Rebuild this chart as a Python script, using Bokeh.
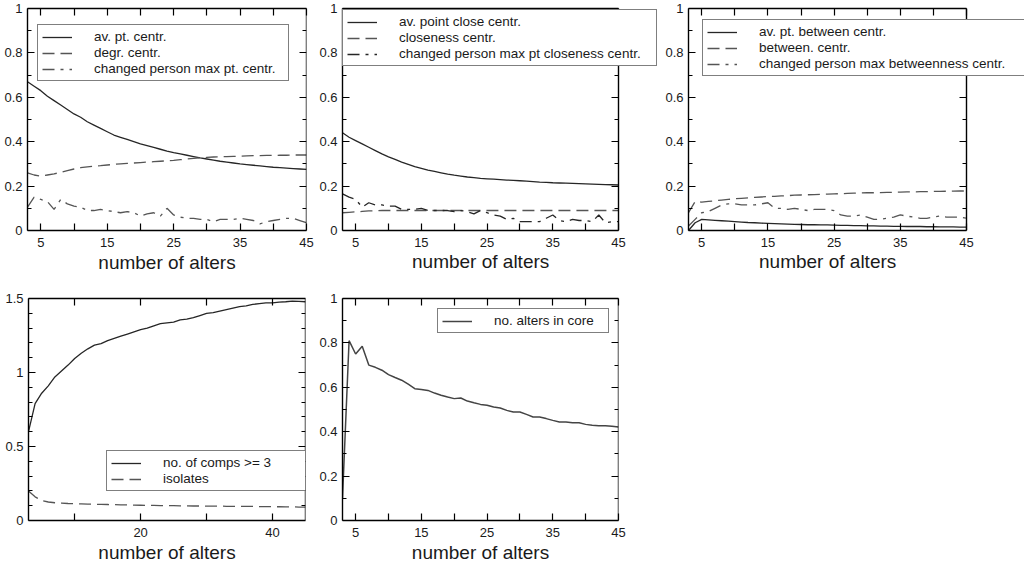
from bokeh.plotting import figure
from bokeh.layouts import column, row
from bokeh.models import (Range1d, FixedTicker, LinearAxis, Legend, LegendItem,
                          CustomJSTickFormatter, Title)
from bokeh.embed import file_html
from bokeh.resources import INLINE

FONT = "Liberation Sans"

# ---------------- data ----------------
alters = list(range(3, 46))

# panel 1: point centrality
av_pt_centr = [0.67, 0.65, 0.63, 0.605, 0.585, 0.565, 0.545, 0.525, 0.51, 0.49, 0.475, 0.46,
               0.445, 0.43, 0.42, 0.41, 0.40, 0.39, 0.382, 0.374, 0.366, 0.358, 0.351, 0.345,
               0.339, 0.333, 0.327, 0.322, 0.317, 0.312, 0.308, 0.304, 0.300, 0.297, 0.294,
               0.291, 0.288, 0.285, 0.283, 0.281, 0.279, 0.277, 0.275]
degr_centr = [0.26, 0.25, 0.245, 0.25, 0.255, 0.262, 0.27, 0.277, 0.283, 0.287, 0.29, 0.292,
              0.295, 0.298, 0.30, 0.302, 0.304, 0.306, 0.308, 0.31, 0.312, 0.314, 0.316, 0.319,
              0.322, 0.325, 0.327, 0.329, 0.331, 0.332, 0.333, 0.334, 0.335, 0.336, 0.337,
              0.337, 0.338, 0.338, 0.339, 0.339, 0.34, 0.34, 0.34]
changed_max_pt = [0.105, 0.15, 0.14, 0.13, 0.095, 0.14, 0.12, 0.11, 0.105, 0.09, 0.09, 0.095,
                  0.09, 0.085, 0.08, 0.085, 0.08, 0.065, 0.075, 0.08, 0.065, 0.10, 0.07, 0.06,
                  0.055, 0.055, 0.05, 0.05, 0.04, 0.05, 0.05, 0.05, 0.055, 0.05, 0.045, 0.03,
                  0.04, 0.045, 0.05, 0.055, 0.055, 0.045, 0.035]

# panel 2: closeness
av_close_centr = [0.44, 0.42, 0.405, 0.39, 0.375, 0.36, 0.345, 0.332, 0.32, 0.308, 0.298, 0.288,
                  0.28, 0.272, 0.266, 0.26, 0.254, 0.249, 0.245, 0.241, 0.238, 0.235, 0.233,
                  0.231, 0.229, 0.227, 0.226, 0.224, 0.222, 0.220, 0.218, 0.217, 0.215, 0.214,
                  0.213, 0.212, 0.211, 0.21, 0.209, 0.208, 0.207, 0.206, 0.205]
closeness_centr = [0.08, 0.082, 0.084, 0.086, 0.088, 0.089, 0.09, 0.09, 0.09, 0.09, 0.09, 0.09,
                   0.09, 0.09, 0.09, 0.09, 0.09, 0.09, 0.09, 0.09, 0.09, 0.09, 0.09, 0.09, 0.09,
                   0.09, 0.09, 0.09, 0.09, 0.09, 0.09, 0.09, 0.09, 0.09, 0.09, 0.09, 0.09, 0.09,
                   0.09, 0.09, 0.09, 0.09, 0.09]
changed_max_close = [0.165, 0.15, 0.14, 0.105, 0.125, 0.115, 0.115, 0.11, 0.11, 0.095, 0.095,
                     0.095, 0.10, 0.09, 0.09, 0.09, 0.09, 0.085, 0.09, 0.085, 0.075, 0.09, 0.08,
                     0.07, 0.065, 0.05, 0.055, 0.04, 0.04, 0.04, 0.04, 0.055, 0.07, 0.045, 0.04,
                     0.05, 0.045, 0.045, 0.04, 0.07, 0.035, 0.04, 0.04]

# panel 3: betweenness
av_between_centr = [0.0, 0.035, 0.05, 0.048, 0.046, 0.044, 0.042, 0.04, 0.038, 0.036, 0.035,
                    0.033, 0.032, 0.031, 0.03, 0.029, 0.028, 0.027, 0.026, 0.026, 0.025, 0.025,
                    0.024, 0.023, 0.023, 0.022, 0.022, 0.021, 0.021, 0.02, 0.02, 0.019, 0.019,
                    0.018, 0.018, 0.018, 0.017, 0.017, 0.016, 0.016, 0.016, 0.015, 0.015]
between_centr = [0.08, 0.13, 0.128, 0.131, 0.134, 0.137, 0.14, 0.143, 0.145, 0.147, 0.149,
                 0.151, 0.153, 0.154, 0.156, 0.157, 0.159, 0.16, 0.161, 0.162, 0.163, 0.164,
                 0.165, 0.166, 0.167, 0.168, 0.169, 0.17, 0.17, 0.171, 0.172, 0.172, 0.173,
                 0.174, 0.174, 0.175, 0.175, 0.176, 0.176, 0.177, 0.177, 0.178, 0.178]
changed_max_between = [0.02, 0.05, 0.08, 0.085, 0.1, 0.115, 0.12, 0.12, 0.115, 0.115, 0.115,
                       0.12, 0.125, 0.1, 0.1, 0.095, 0.1, 0.095, 0.09, 0.095, 0.095, 0.095,
                       0.09, 0.07, 0.065, 0.065, 0.07, 0.06, 0.05, 0.05, 0.055, 0.06, 0.07,
                       0.065, 0.06, 0.055, 0.055, 0.06, 0.065, 0.06, 0.06, 0.06, 0.055]

# panel 4: components
comps_ge3 = [0.6, 0.79, 0.86, 0.91, 0.97, 1.01, 1.05, 1.095, 1.13, 1.16, 1.185, 1.195, 1.215,
             1.23, 1.245, 1.26, 1.275, 1.29, 1.3, 1.315, 1.33, 1.335, 1.34, 1.355, 1.36, 1.37,
             1.385, 1.4, 1.405, 1.415, 1.425, 1.435, 1.445, 1.45, 1.46, 1.465, 1.47, 1.47,
             1.475, 1.478, 1.482, 1.48, 1.478]
isolates = [0.2, 0.16, 0.135, 0.125, 0.12, 0.118, 0.115, 0.113, 0.112, 0.111, 0.11, 0.109,
            0.108, 0.107, 0.106, 0.105, 0.104, 0.103, 0.102, 0.102, 0.101, 0.1, 0.1, 0.099,
            0.099, 0.098, 0.098, 0.097, 0.097, 0.097, 0.096, 0.096, 0.095, 0.095, 0.095, 0.094,
            0.094, 0.093, 0.093, 0.092, 0.092, 0.091, 0.09]

# panel 5: core
alters_in_core = [0.1, 0.81, 0.75, 0.785, 0.70, 0.69, 0.677, 0.657, 0.644, 0.632, 0.614, 0.594,
                  0.59, 0.586, 0.574, 0.564, 0.556, 0.549, 0.552, 0.538, 0.53, 0.523, 0.519,
                  0.511, 0.507, 0.496, 0.489, 0.489, 0.478, 0.466, 0.466, 0.459, 0.451, 0.444,
                  0.444, 0.44, 0.44, 0.433, 0.429, 0.427, 0.427, 0.425, 0.421]

# ticks
x_ticks = [5, 15, 25, 35, 45]
x_minor = [10, 20, 30, 40]
y_ticks = [0, 0.2, 0.4, 0.6, 0.8, 1]
y_minor = [0.1, 0.3, 0.5, 0.7, 0.9]
x_ticks_p4 = [20, 40]
x_minor_p4 = [10, 30]
y_ticks_p4 = [0, 0.5, 1, 1.5]
y_minor_p4 = [0.1, 0.2, 0.3, 0.4, 0.6, 0.7, 0.8, 0.9, 1.1, 1.2, 1.3, 1.4]

X_MIN, X_MAX = 3, 45
X_LABEL = "number of alters"
X_LABEL_W = 137  # approx. rendered width of X_LABEL at 19px Liberation Sans

SOLID_C = "#262626"
DASH_C = "#555555"
DASH = "12 6"
DASHDOT = "12 6 3 6"
LW = 1.3


def style_axis(ax, minor_in, hidden=False, standoff=6):
    ax.axis_line_color = "black"
    ax.axis_line_width = 1.4
    ax.major_tick_in = 7
    ax.major_tick_out = 0
    ax.minor_tick_in = minor_in
    ax.minor_tick_out = 0
    ax.major_tick_line_color = "black"
    ax.minor_tick_line_color = "black"
    ax.major_tick_line_width = 1.2
    ax.minor_tick_line_width = 1.2
    ax.major_label_text_font = FONT
    ax.major_label_text_font_size = "0px" if hidden else "13px"
    ax.major_label_text_color = "#1a1a1a"
    ax.major_label_standoff = 0 if hidden else standoff
    ax.axis_label_text_font = FONT
    ax.axis_label_text_font_size = "19px"
    ax.axis_label_text_font_style = "normal"
    ax.axis_label_text_color = "#1a1a1a"
    ax.axis_label_standoff = 2


def make_fig(width, height, bl, br, bt, bb, ymax, xt, xm, yt, ym, ext_px=0):
    # frame width in px and extra room (ext_px) right of x=45 for an overflowing legend
    frame_w = width - bl - br
    plot_w = frame_w - ext_px
    x_end = X_MAX + ext_px * (X_MAX - X_MIN) / plot_w
    p = figure(width=width, height=height, x_range=Range1d(X_MIN, x_end),
               y_range=Range1d(0, ymax),
               output_backend="svg", toolbar_location=None, tools="",
               min_border_left=bl, min_border_right=br, min_border_top=bt, min_border_bottom=bb,
               x_axis_type=None, y_axis_type=None)
    p.outline_line_color = None
    p.background_fill_color = "white"
    p.border_fill_color = "white"

    xb = LinearAxis(ticker=FixedTicker(ticks=xt, minor_ticks=xm), bounds=(X_MIN, X_MAX))
    style_axis(xb, 7, standoff=7)
    if ext_px == 0:
        xb.axis_label = X_LABEL
    p.add_layout(xb, "below")
    if ext_px > 0:
        t = Title(text=X_LABEL, align="left", offset=(plot_w - X_LABEL_W) / 2,
                  text_font=FONT, text_font_size="19px", text_font_style="normal",
                  text_color="#1a1a1a", standoff=2, vertical_align="top")
        p.add_layout(t, "below")
    xa = LinearAxis(ticker=FixedTicker(ticks=xt, minor_ticks=xm), bounds=(X_MIN, X_MAX),
                    formatter=CustomJSTickFormatter(code="return '';"))
    style_axis(xa, 7, hidden=True)
    p.add_layout(xa, "above")
    yl = LinearAxis(ticker=FixedTicker(ticks=yt, minor_ticks=ym),
                    formatter=CustomJSTickFormatter(code="return String(tick);"))
    style_axis(yl, 4, standoff=5)
    p.add_layout(yl, "left")
    yr = LinearAxis(ticker=FixedTicker(ticks=yt, minor_ticks=ym), fixed_location=X_MAX,
                    formatter=CustomJSTickFormatter(code="return '';"))
    style_axis(yr, 4, hidden=True)
    p.add_layout(yr, "right")
    return p


def add_legend(p, items, loc, label_width):
    lg = Legend(items=[LegendItem(label=l, renderers=[r]) for l, r in items], location=loc)
    lg.margin = 0
    lg.padding = 4
    lg.spacing = 1
    lg.glyph_width = 30
    lg.glyph_height = 14
    lg.label_height = 14
    lg.label_width = label_width
    lg.label_standoff = 22
    lg.label_text_font = FONT
    lg.label_text_font_size = "13.5px"
    lg.label_text_color = "#1a1a1a"
    lg.border_line_color = "black"
    lg.border_line_width = 1.3
    lg.background_fill_color = "white"
    lg.background_fill_alpha = 1.0
    p.add_layout(lg)


# ---------- panel 1 ----------
p1 = make_fig(315, 280, 27, 9, 8, 50, 1, x_ticks, x_minor, y_ticks, y_minor)
r11 = p1.line(alters, av_pt_centr, line_color=SOLID_C, line_width=LW)
r12 = p1.line(alters, degr_centr, line_color=DASH_C, line_width=LW, line_dash=DASH)
r13 = p1.line(alters, changed_max_pt, line_color=DASH_C, line_width=LW, line_dash=DASHDOT)
add_legend(p1, [("av. pt. centr.", r11), ("degr. centr.", r12),
                ("changed person max pt. centr.", r13)], (10, 149), 190)

# ---------- panel 2 ----------
p2 = make_fig(346, 280, 27, 1, 8, 50, 1, x_ticks, x_minor, y_ticks, y_minor, ext_px=42)
r21 = p2.line(alters, av_close_centr, line_color=SOLID_C, line_width=LW)
r22 = p2.line(alters, closeness_centr, line_color=DASH_C, line_width=LW, line_dash=DASH)
r23 = p2.line(alters, changed_max_close, line_color=SOLID_C, line_width=LW, line_dash=DASHDOT)
add_legend(p2, [("av. point close centr.", r21), ("closeness centr.", r22),
                ("changed person max pt closeness centr.", r23)], (0, 164), 253)

# ---------- panel 3 ----------
p3 = make_fig(364, 280, 27, 1, 8, 50, 1, x_ticks, x_minor, y_ticks, y_minor, ext_px=58)
r31 = p3.line(alters, av_between_centr, line_color=SOLID_C, line_width=LW)
r32 = p3.line(alters, between_centr, line_color=DASH_C, line_width=LW, line_dash=DASH)
r33 = p3.line(alters, changed_max_between, line_color=DASH_C, line_width=LW, line_dash=DASHDOT)
add_legend(p3, [("av. pt. between centr.", r31), ("between. centr.", r32),
                ("changed person max betweenness centr.", r33)], (14, 154), 261)

# ---------- panel 4 ----------
p4 = make_fig(315, 285, 28, 10, 18, 45, 1.5, x_ticks_p4, x_minor_p4, y_ticks_p4, y_minor_p4)
r41 = p4.line(alters, comps_ge3, line_color=SOLID_C, line_width=LW)
r42 = p4.line(alters, isolates, line_color=DASH_C, line_width=LW, line_dash=DASH)
add_legend(p4, [("no. of comps >= 3", r41), ("isolates", r42)], (78, 29), 139)

# ---------- panel 5 ----------
p5 = make_fig(346, 285, 27, 43, 18, 45, 1, x_ticks, x_minor, y_ticks, y_minor)
r51 = p5.line(alters, alters_in_core, line_color="#444444", line_width=LW + 0.2)
add_legend(p5, [("no. alters in core", r51)], (95, 187), 110)

layout = column(row(p1, p2, p3, spacing=0), row(p4, p5, spacing=0), spacing=0)

open("out.html", "w").write(file_html(layout, INLINE))
